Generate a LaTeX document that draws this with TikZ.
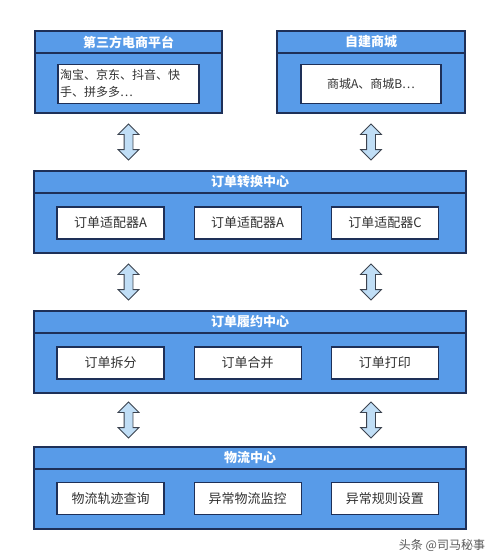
\documentclass[tikz,border=0pt]{standalone}
\usepackage{fontspec}
\setmainfont{Noto Sans CJK SC}
\usetikzlibrary{positioning, shapes.arrows, calc}
\definecolor{boxblue}{RGB}{88,155,232}
\definecolor{navy}{RGB}{30,48,88}
\definecolor{textgray}{RGB}{50,50,50}
\definecolor{arrowblue}{RGB}{192,222,246}
\definecolor{arrowgray}{RGB}{60,68,80}
\definecolor{markgray}{RGB}{90,90,90}
\tikzset {
    hub/.style={draw=navy, line width=1.2pt, fill=boxblue, minimum height=82pt, inner sep=0pt},
    title/.style={draw=navy, line width=1.2pt, minimum height=22pt, anchor=north, inner sep=0pt,
        text=white, font=\bfseries\fontsize{13}{15}\selectfont},
    item/.style={draw=navy, line width=1.2pt, fill=white, minimum width=107pt, minimum height=32pt,
        inner sep=0pt, text=textgray, font=\fontsize{13}{15}\selectfont},
    link/.style={double arrow, draw=arrowgray, fill=arrowblue, line width=0.8pt, rotate=90,
        minimum height=36pt, inner sep=4pt, double arrow head extend=6pt,
        double arrow head indent=0pt}
}

\begin{document}
\begin{tikzpicture}[x=1pt, y=-1pt]
    \useasboundingbox[fill=white] (0,0) rectangle (500,560);

    % sources
    \node[hub, minimum width=187pt] (plat) at (128.5,72) {};
    \node[title, minimum width=187pt] (platT) at (plat.north) {第三方电商平台};
    \node[item, minimum width=141pt, minimum height=39pt, below=10pt of platT,
        align=left, text width=137pt, font=\fontsize{12}{17}\selectfont]
        (platI) {淘宝、京东、抖音、快\\手、拼多多…};

    \node[hub, minimum width=188pt] (mall) at (371,72) {};
    \node[title, minimum width=188pt] (mallT) at (mall.north) {自建商城};
    \node[item, minimum width=140pt, minimum height=39pt, below=10pt of mallT,
        font=\fontsize{12}{15}\selectfont] (mallI) {商城A、商城B…};

    % order conversion
    \node[hub, minimum width=432pt] (conv) at (250,212) {};
    \node[title, minimum width=432pt] (convT) at (conv.north) {订单转换中心};
    \node[item] (convA) at (110.5,223) {订单适配器A};
    \node[item, right=29pt of convA] (convB) {订单适配器A};
    \node[item, right=29pt of convB] (convC) {订单适配器C};

    % order fulfilment
    \node[hub, minimum width=432pt] (ful) at (250,352) {};
    \node[title, minimum width=432pt] (fulT) at (ful.north) {订单履约中心};
    \node[item] (fulA) at (110.5,363) {订单拆分};
    \node[item, right=29pt of fulA] (fulB) {订单合并};
    \node[item, right=29pt of fulB] (fulC) {订单打印};

    % logistics
    \node[hub, minimum width=432pt] (logi) at (250,488) {};
    \node[title, minimum width=432pt] (logiT) at (logi.north) {物流中心};
    \node[item] (logiA) at (110.5,498.5) {物流轨迹查询};
    \node[item, right=29pt of logiA] (logiB) {异常物流监控};
    \node[item, right=29pt of logiB] (logiC) {异常规则设置};

    % links
    \node[link] (l1) at ($(plat.south)!0.5!(conv.north -| plat.south)$) {};
    \node[link] (l2) at ($(mall.south)!0.5!(conv.north -| mall.south)$) {};
    \node[link] (l3) at ($(conv.south -| plat.south)!0.5!(ful.north -| plat.south)$) {};
    \node[link] (l4) at ($(conv.south -| mall.south)!0.5!(ful.north -| mall.south)$) {};
    \node[link] (l5) at ($(ful.south -| plat.south)!0.5!(logi.north -| plat.south)$) {};
    \node[link] (l6) at ($(ful.south -| mall.south)!0.5!(logi.north -| mall.south)$) {};

    \node[text=markgray, font=\fontsize{12}{14}\selectfont] (mark) at (442,545) {头条 @司马秘事};
\end{tikzpicture}
\end{document}
